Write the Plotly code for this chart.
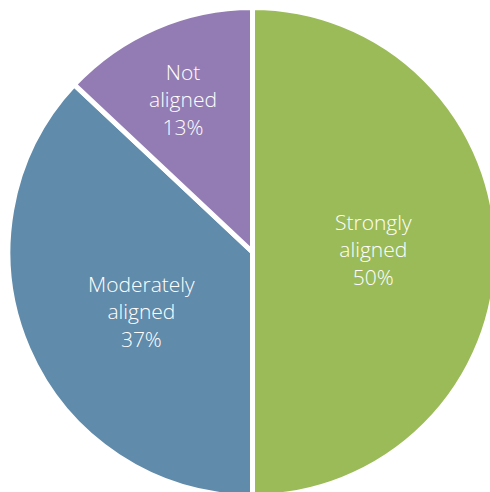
import math
import plotly.graph_objects as go

# Alignment breakdown
categories = ["Strongly aligned", "Moderately aligned", "Not aligned"]
shares = [50, 37, 13]
label_lines = ["Strongly<br>aligned", "Moderately<br>aligned", "Not<br>aligned"]
colors = ["#9BBB59", "#608BAB", "#937CB3"]

W, H = 500, 500
cx, cy, r = 252.5, 252.0, 244.5          # pie centre / radius in px (top-left origin)
label_radius = [0.497, 0.516, 0.686]      # label distance as fraction of radius
label_nudge = [-1.4, -4.5, -0.9]          # small angular shift of each label (deg)

fig = go.Figure(go.Pie(
    labels=categories,
    values=shares,
    sort=False,
    direction="clockwise",
    rotation=0,
    textinfo="none",
    hoverinfo="label+percent",
    marker=dict(colors=colors, line=dict(color="white", width=5)),
    domain=dict(x=[(cx - r) / W, (cx + r) / W],
                y=[(H - cy - r) / H, (H - cy + r) / H]),
    showlegend=False,
))

label_font = dict(family="Open Sans, Roboto, sans-serif", size=21, color="white", weight=300)

total = sum(shares)
start = 0.0
for name, val, frac, nudge in zip(label_lines, shares, label_radius, label_nudge):
    mid = start + val / total * 360 / 2 + nudge
    start += val / total * 360
    ang = math.radians(mid)
    px = cx + frac * r * math.sin(ang)
    py = cy - frac * r * math.cos(ang)
    fig.add_annotation(
        x=px / W, y=(H - py) / H, xref="paper", yref="paper",
        xanchor="center", yanchor="middle", align="center",
        text=f"{name}<br>{round(val / total * 100)}%",
        showarrow=False, font=label_font,
    )

fig.update_layout(
    width=W, height=H,
    margin=dict(l=0, r=0, t=0, b=0),
    paper_bgcolor="white",
    plot_bgcolor="white",
)

fig.write_html(
    "out.html",
    post_script="document.body.style.margin='0';document.body.style.overflow='hidden';"
                "document.documentElement.style.overflow='hidden';",
)
